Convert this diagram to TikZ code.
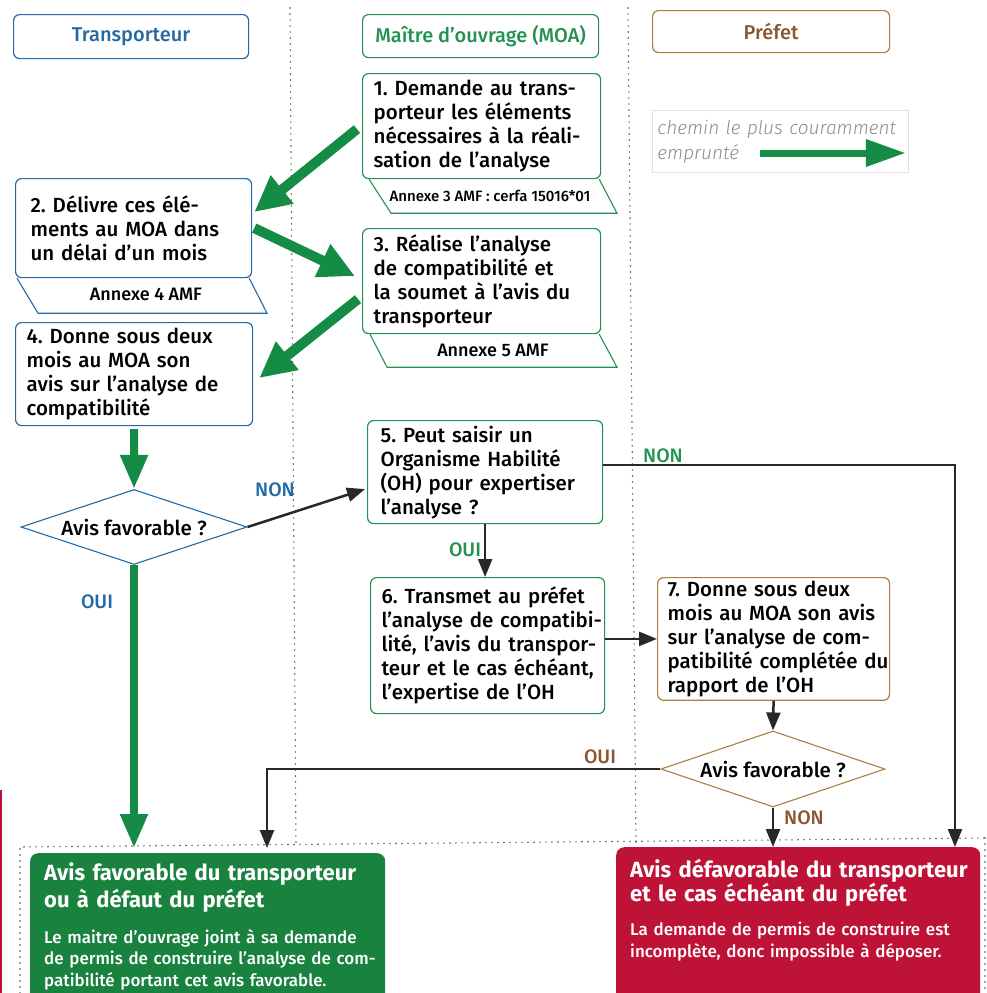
\documentclass[tikz,border=0pt]{standalone}
\usepackage{fontspec}
\IfFontExistsTF{Fira Sans Medium}
  {\setmainfont{Fira Sans Medium}[BoldFont=Fira Sans Bold, ItalicFont=Fira Sans Italic]}
  {\setmainfont{Fira Sans}}
\IfFontExistsTF{Fira Sans Light Italic}
  {\newfontfamily\legendfont{Fira Sans Light Italic}}
  {\newfontfamily\legendfont{Fira Sans Italic}}
\usetikzlibrary{arrows.meta,shapes.geometric}
\frenchspacing

\definecolor{tblue}{RGB}{35,105,165}
\definecolor{mgreen}{RGB}{35,145,80}
\definecolor{pbrown}{RGB}{175,125,65}
\definecolor{pbrowntext}{RGB}{140,85,45}
\definecolor{agreen}{RGB}{20,140,70}
\definecolor{okgreen}{RGB}{25,130,62}
\definecolor{nored}{RGB}{190,18,55}
\definecolor{darkline}{RGB}{40,40,40}

\begin{document}
\begin{tikzpicture}[x=1pt, y=-1pt,
  every node/.style={font=\fontsize{20.5}{24}\selectfont},
  hdr/.style={draw, rounded corners=6pt, line width=1.2pt, anchor=north west, minimum height=43pt,
    font=\fontsize{20}{24}\selectfont},
  stepbox/.style={rounded corners=6pt, line width=1.2pt, anchor=north west, align=left, inner xsep=11pt,
    execute at begin node={\rightskip=-30pt plus 2em\relax}},
  tabline/.style={line width=1.1pt},
  tabtext/.style={font=\fontsize{18}{20}\selectfont, inner sep=0pt},
  question/.style={diamond, aspect=3, line width=1.1pt, inner sep=0pt},
  lbl/.style={font=\fontsize{19.5}{22}\selectfont, inner sep=0pt},
  bigarrow/.style={agreen, line width=10pt, -{Triangle[length=36pt,width=34pt]}},
  downarrow/.style={agreen, line width=8pt, -{Triangle[length=34pt,width=26pt]}},
  blackarrow/.style={darkline, line width=2.5pt, -{Triangle[length=18pt,width=14pt]}},
  lane/.style={black!70, line width=1.6pt, dash pattern=on 0pt off 6pt, line cap=round},
  result/.style={rounded corners=8pt, anchor=north west},
  restext/.style={text=white, anchor=base west, inner sep=0pt, align=left},
]
\useasboundingbox (0,0) rectangle (987,993);

% swimlanes
\draw[lane] (290,8) -- (296,845);
\draw[lane] (628,8) -- (636,843);
\draw[lane] (20,993) -- (20,847) -- (987,838);
\draw[lane] (985,838) -- (985,993);
\fill[nored] (0,790) rectangle (2,993);

% headers
\node[hdr, tblue, minimum width=235pt, minimum height=44pt] (htrans) at (13,14) {Transporteur};
\node[hdr, mgreen, minimum width=236pt] (hmoa) at (362,14) {Maître d’ouvrage (MOA)};
\node[hdr, pbrown, text=pbrowntext, minimum width=237pt, minimum height=42pt] (hpref) at (652,10) {Préfet};

% legend
\node[draw=black!12, line width=0.8pt, anchor=north west, text width=246pt, inner xsep=5pt,
  minimum height=62pt, align=left, text=black!45, font=\fontsize{19}{25}\legendfont]
  (legend) at (652,110) {chemin le plus couramment\\emprunté};
\coordinate (lgs) at (760,153);
\draw[agreen, line width=7pt, -{Triangle[length=40pt,width=26pt]}, shorten >=3pt] (lgs) -- (legend.east |- lgs);

% steps
\node[stepbox, draw=mgreen, text width=216pt, minimum height=105pt] (s1) at (362,73)
  {1. Demande au trans-\\porteur les éléments\\nécessaires à la réali-\\sation de l’analyse};
\node[stepbox, draw=tblue, inner xsep=15pt, text width=206pt, minimum height=99pt] (s2) at (15,178)
  {2. Délivre ces élé-\\ments au MOA dans\\un délai d’un mois};
\node[stepbox, draw=mgreen, text width=216pt, minimum height=105pt] (s3) at (362,228)
  {3. Réalise l’analyse\\de compatibilité et\\la soumet à l’avis du\\transporteur};
\node[stepbox, draw=tblue, text width=215pt, minimum height=103pt] (s4) at (15,322)
  {4. Donne sous deux\\mois au MOA son\\avis sur l’analyse de\\compatibilité};
\node[stepbox, draw=mgreen, inner xsep=13pt, text width=209pt, minimum height=103pt] (s5) at (367,420)
  {5. Peut saisir un\\Organisme Habilité\\(OH) pour expertiser\\l’analyse ?};
\node[stepbox, draw=mgreen, text width=212pt, minimum height=136pt] (s6) at (370,577)
  {6. Transmet au préfet\\l’analyse de compatibi-\\lité, l’avis du transpor-\\teur et le cas échéant,\\l’expertise de l’OH};
\node[stepbox, draw=pbrown, inner xsep=10pt, text width=212pt, minimum height=118pt] (s7) at (657,577)
  {7. Donne sous deux\\mois au MOA son avis\\sur l’analyse de com-\\patibilité complétée du\\rapport de l’OH};

% annex tabs
\draw[tabline, mgreen] ([xshift=7pt]s1.south west) -- ++(22,34) -- ++(226,0) -- ([xshift=-2pt]s1.south east);
\node[tabtext, font=\fontsize{15}{17}\selectfont] (a1) at (490,196) {Annexe 3 AMF : cerfa 15016*01};
\draw[tabline, tblue] ([xshift=2pt]s2.south west) -- ++(21,35) -- ++(229,0) -- ([xshift=-3pt]s2.south east);
\node[tabtext] (a2) at (146,294) {Annexe 4 AMF};
\draw[tabline, mgreen] ([xshift=8pt]s3.south west) -- ++(17,33) -- ++(230,0) -- ([xshift=-2pt]s3.south east);
\node[tabtext] (a3) at (493,350) {Annexe 5 AMF};

% decisions
\node[question, draw=tblue, minimum width=226pt, minimum height=75pt] (q1) at (134,527) {Avis favorable ?};
\node[question, draw=pbrown, minimum width=224pt, minimum height=76pt] (q2) at (773,769) {Avis favorable ?};

% outcomes
\node[result, fill=okgreen, minimum width=355pt, minimum height=160pt] (ok) at (30,853) {};
\node[restext, text width=350pt, font=\fontsize{22}{27}\selectfont\bfseries] (okt) at (44,880)
  {Avis favorable du transporteur\\ou à défaut du préfet};
\node[restext, text width=345pt, font=\fontsize{17}{21.5}\selectfont] (okb) at (44,943)
  {Le maitre d’ouvrage joint à sa demande\\de permis de construire l’analyse de com-\\patibilité portant cet avis favorable.};
\node[result, fill=nored, minimum width=364pt, minimum height=160pt] (no) at (616,847) {};
\node[restext, text width=355pt, font=\fontsize{22}{23}\selectfont\bfseries] (not) at (630,877)
  {Avis défavorable du transporteur\\et le cas échéant du préfet};
\node[restext, text width=345pt, font=\fontsize{17}{22}\selectfont] (nob) at (630,935)
  {La demande de permis de construire est\\incomplète, donc impossible à déposer.};

% green flow
\draw[bigarrow] ([xshift=-5pt,yshift=-3pt]s1.west) -- ([xshift=2pt,yshift=16pt]s2.east);
\draw[bigarrow] ([xshift=2pt]s2.east) -- ([xshift=-7pt,yshift=5pt]s3.west);
\draw[bigarrow] ([xshift=-4pt,yshift=-18pt]s3.west) -- ([xshift=6pt,yshift=-4pt]s4.east);
\draw[downarrow] ([yshift=-3pt]s4.south) -- (q1.north);
\draw[downarrow, shorten >=5pt] (q1.south) -- (q1.south |- ok.north);

% other links
\coordinate (nonturn) at (955,465);
\coordinate (ouiturn) at (267,769);
\draw[blackarrow] (q1.east) -- ([xshift=-2pt,yshift=-17pt]s5.west);
\draw[blackarrow] (s5.east |- nonturn) -- (nonturn) -- (nonturn |- no.north);
\draw[blackarrow] (s5.south) -- (s5.south |- s6.north);
\draw[blackarrow] (s6.east |- s7.west) -- (s7.west);
\draw[blackarrow] (s7.south) -- (q2.north);
\draw[blackarrow, shorten >=5pt] (q2.west) -- (ouiturn) -- (ouiturn |- ok.north);
\draw[blackarrow] (q2.south) -- (q2.south |- no.north);

% labels
\node[lbl, tblue] (n1) at (275,490) {NON};
\node[lbl, tblue] (o1) at (97,602) {OUI};
\node[lbl, mgreen] (n5) at (663,456) {NON};
\node[lbl, mgreen] (o5) at (465,550) {OUI};
\node[lbl, pbrowntext] (o7) at (600,757) {OUI};
\node[lbl, pbrowntext] (n7) at (804,818) {NON};
\end{tikzpicture}
\end{document}
